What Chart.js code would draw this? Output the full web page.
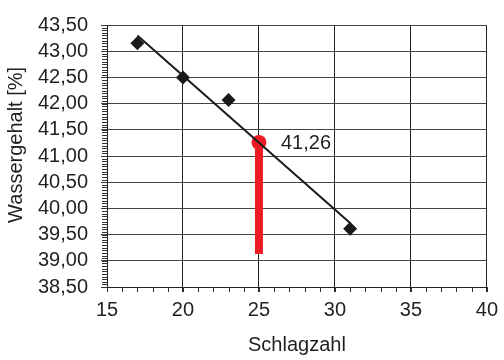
<!DOCTYPE html>
<html>
<head>
<meta charset="utf-8">
<script src="https://cdn.jsdelivr.net/npm/chart.js@4/dist/chart.umd.min.js"></script>
<style>
  html, body { margin: 0; padding: 0; background: #fff; }
  #wrap { width: 504px; height: 360px; }
</style>
</head>
<body>
<div id="wrap"><canvas id="c" width="504" height="360"></canvas></div>
<script>
// Measured points
const schlagzahl = [17, 20, 23, 31];
const wassergehalt = [43.15, 42.50, 42.07, 39.61];
// Trend line end points
const trendX = [17, 31];
const trendY = [43.30, 39.72];
// Result at 25 blows
const resultX = 25;
const resultY = 41.26;
const resultBaseY = 39.13;
const resultLabel = '41,26';
// Axes
const xMin = 15, xMax = 40, xStep = 5, xMinorStep = 1;
const yMin = 38.5, yMax = 43.5, yStep = 0.5, yMinorStep = 0.05;
const xTitle = 'Schlagzahl';
const yTitle = 'Wassergehalt [%]';

const FONT = { family: 'Arial, "Liberation Sans", sans-serif', size: 20 };
const TXT = '#231f20';
const RED = '#ed1c24';

const minorTicks = {
  id: 'minorTicks',
  beforeDatasetsDraw(chart) {
    const ctx = chart.ctx, xs = chart.scales.x, ys = chart.scales.y;
    const a = chart.chartArea;
    ctx.save();
    ctx.strokeStyle = '#333';
    ctx.lineWidth = 1;
    ctx.beginPath();
    const ny = Math.round((yMax - yMin) / yMinorStep);
    for (let i = 0; i <= ny; i++) {
      const py = Math.round(ys.getPixelForValue(yMin + i * yMinorStep)) + 0.5;
      ctx.moveTo(a.left - 5, py); ctx.lineTo(a.left, py);
    }
    const nx = Math.round((xMax - xMin) / xMinorStep);
    for (let i = 0; i <= nx; i++) {
      const px = Math.round(xs.getPixelForValue(xMin + i * xMinorStep)) + 0.5;
      ctx.moveTo(px, a.bottom); ctx.lineTo(px, a.bottom + 5);
    }
    ctx.stroke();
    ctx.restore();
  }
};

const valueLabel = {
  id: 'valueLabel',
  afterDatasetsDraw(chart) {
    const ctx = chart.ctx, xs = chart.scales.x, ys = chart.scales.y;
    ctx.save();
    ctx.font = FONT.size + 'px ' + FONT.family;
    ctx.fillStyle = TXT;
    ctx.textAlign = 'left';
    ctx.textBaseline = 'middle';
    ctx.fillText(resultLabel, xs.getPixelForValue(resultX) + 22, ys.getPixelForValue(resultY) + 1);
    ctx.restore();
  }
};

new Chart(document.getElementById('c'), {
  type: 'scatter',
  data: {
    datasets: [
      {
        label: 'Messwerte',
        data: schlagzahl.map((x, i) => ({ x, y: wassergehalt[i] })),
        pointStyle: 'rectRot',
        pointRadius: 7,
        backgroundColor: '#1a1a1a',
        borderColor: '#1a1a1a',
        borderWidth: 0,
        showLine: false
      },
      {
        label: 'Trend',
        data: trendX.map((x, i) => ({ x, y: trendY[i] })),
        showLine: true,
        borderColor: '#1a1a1a',
        borderWidth: 2,
        pointRadius: 0
      },
      {
        label: 'Ergebnis',
        data: [{ x: resultX, y: resultY }],
        pointStyle: 'circle',
        pointRadius: 7.5,
        backgroundColor: RED,
        borderColor: RED,
        borderWidth: 0
      },
      {
        label: 'Linie',
        data: [{ x: resultX, y: resultBaseY }, { x: resultX, y: resultY }],
        showLine: true,
        borderColor: RED,
        borderWidth: 8,
        borderCapStyle: 'butt',
        pointRadius: 0
      }
    ]
  },
  options: {
    responsive: false,
    animation: false,
    devicePixelRatio: 1,
    layout: { padding: { left: 0, right: 12, top: 19, bottom: 0 } },
    plugins: { legend: { display: false }, tooltip: { enabled: false } },
    scales: {
      x: {
        type: 'linear', min: xMin, max: xMax,
        afterFit(s) { s.height = 73; },
        ticks: { stepSize: xStep, color: TXT, font: FONT, padding: 6, maxRotation: 0, autoSkip: false },
        grid: { color: '#222', lineWidth: 1, tickLength: 5, drawTicks: true },
        border: { color: '#222', width: 1 },
        title: { display: true, text: xTitle, color: TXT, font: FONT, padding: { top: 0, bottom: 3 } }
      },
      y: {
        type: 'linear', min: yMin, max: yMax,
        afterFit(s) { s.width = 107; },
        ticks: {
          stepSize: yStep, color: TXT, font: FONT, padding: 13, autoSkip: false,
          callback: v => v.toFixed(2).replace('.', ',')
        },
        grid: { color: '#444', lineWidth: 1, tickLength: 6 },
        border: { color: '#222', width: 1 },
        title: { display: true, text: '    ' + yTitle, color: TXT, font: FONT, padding: { top: 4, bottom: 0 } }
      }
    }
  },
  plugins: [minorTicks, valueLabel]
});
</script>
</body>
</html>
